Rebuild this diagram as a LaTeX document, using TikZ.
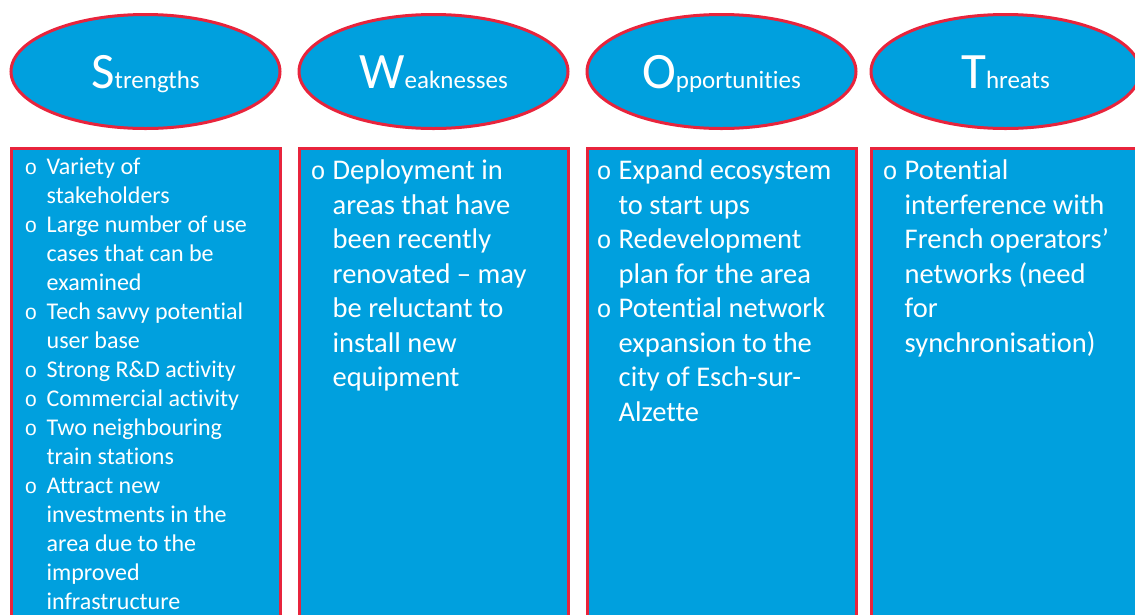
\documentclass[tikz,border=0pt]{standalone}
\usepackage{fontspec}
\setmainfont[Ligatures={TeX,NoCommon}]{Carlito}
\newfontfamily\bulletfont[Scale=0.88]{Liberation Mono}
\usetikzlibrary{positioning,shapes.geometric}

\definecolor{swotblue}{RGB}{0,160,222}
\definecolor{swotred}{RGB}{232,36,60}

\newcommand{\swothead}[2]{{\fontsize{51}{51}\selectfont #1}{\fontsize{25}{25}\selectfont #2}}
\newcommand{\bl}{\makebox[22pt][l]{\bulletfont o}}
\newcommand{\ind}{\hspace*{22pt}}

\tikzset{
  head/.style={ellipse, draw=swotred, fill=swotblue, line width=3pt,
    minimum width=269pt, minimum height=114pt, inner sep=0pt,
    text=white, text height=33pt, text depth=0pt},
  panel/.style={rectangle, draw=swotred, fill=swotblue, line width=3pt,
    minimum width=269pt, minimum height=500pt, inner sep=0pt},
  smalllist/.style={inner sep=0pt, align=left, text=white,
    font=\fontsize{24}{29}\selectfont},
  biglist/.style={inner sep=0pt, align=left, text=white,
    font=\fontsize{28.5}{34.5}\selectfont}
}

\begin{document}
\begin{tikzpicture}[x=1pt, y=-1pt]

  \useasboundingbox (0,0) rectangle (1135,614);
  \clip (0,0) rectangle (1135,614);

  % Define nodes
  \node[head]                    (s) at (145.5,71.5) {\swothead{S}{trengths}};
  \node[head, right=16pt of s]   (w) {\swothead{W}{eaknesses}};
  \node[head, right=16pt of w]   (o) {\swothead{O}{pportunities}};
  \node[head, right=12pt of o]   (t) {\swothead{T}{hreats}};

  % Panels
  \node[panel, below=17pt of s] (sbox) {};
  \node[panel, below=17pt of w] (wbox) {};
  \node[panel, below=17pt of o] (obox) {};
  \node[panel, below=17pt of t] (tbox) {};

  % Lists
  \node[smalllist, below right=11pt and 15pt of sbox.north west] (slist)
    {\bl Variety of\\ \ind stakeholders\\
     \bl Large number of use\\ \ind cases that can be\\ \ind examined\\
     \bl Tech savvy potential\\ \ind user base\\
     \bl Strong R\&D activity\\
     \bl Commercial activity\\
     \bl Two neighbouring\\ \ind train stations\\
     \bl Attract new\\ \ind investments in the\\ \ind area due to the\\
     \ind improved\\ \ind infrastructure};
  \node[biglist, below right=13pt and 13pt of wbox.north west] (wlist)
    {\bl Deployment in\\ \ind areas that have\\ \ind been recently\\
     \ind renovated – may\\ \ind be reluctant to\\ \ind install new\\
     \ind equipment};
  \node[biglist, below right=13pt and 11pt of obox.north west] (olist)
    {\bl Expand ecosystem\\ \ind to start ups\\
     \bl Redevelopment\\ \ind plan for the area\\
     \bl Potential network\\ \ind expansion to the\\ \ind city of Esch-sur-\\
     \ind Alzette};
  \node[biglist, below right=13pt and 13pt of tbox.north west] (tlist)
    {\bl Potential\\ \ind interference with\\ \ind French operators’\\
     \ind networks (need\\ \ind for\\ \ind synchronisation)};

\end{tikzpicture}
\end{document}
